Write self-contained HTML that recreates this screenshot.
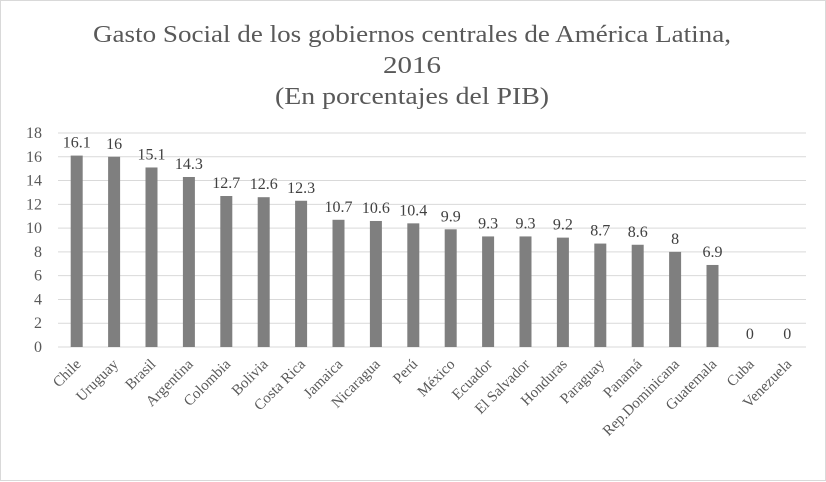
<!DOCTYPE html>
<html><head><meta charset="utf-8">
<style>
html,body{margin:0;padding:0;background:#fff;}
svg{display:block;font-family:"Liberation Serif",serif;}
</style></head>
<body>
<svg id="chart" width="826" height="482" viewBox="0 0 826 482" xmlns="http://www.w3.org/2000/svg">
<rect x="0.5" y="0.5" width="825" height="480" fill="#fff" stroke="#d9d9d9"/>
<g fill="#595959" font-size="24" text-anchor="middle">
<text x="412" y="42" textLength="638" lengthAdjust="spacingAndGlyphs">Gasto Social de los gobiernos centrales de América Latina,</text>
<text x="412" y="73" textLength="58" lengthAdjust="spacingAndGlyphs">2016</text>
<text x="412" y="104" textLength="274" lengthAdjust="spacingAndGlyphs">(En porcentajes del PIB)</text>
</g>
<g id="grid"></g>
<g id="yticks"></g>
<g id="bars"></g>
<g id="vals"></g>
<g id="xlabels"></g>
</svg>
<script>
const categories = ["Chile","Uruguay","Brasil","Argentina","Colombia","Bolivia","Costa Rica","Jamaica","Nicaragua","Perú","México","Ecuador","El Salvador","Honduras","Paraguay","Panamá","Rep.Dominicana","Guatemala","Cuba","Venezuela"];
const values = [16.1,16,15.1,14.3,12.7,12.6,12.3,10.7,10.6,10.4,9.9,9.3,9.3,9.2,8.7,8.6,8,6.9,0,0];
const yTicks = [0,2,4,6,8,10,12,14,16,18];

const NS="http://www.w3.org/2000/svg";
const plotL=58, plotR=806, y0=347, yTop=133, yMax=18;
const step=(plotR-plotL)/categories.length;
function yScale(v){return y0-(v/yMax)*(y0-yTop);}
function xCenter(i){return plotL+step*(i+0.5);}
function mk(tag,attrs,parent){const e=document.createElementNS(NS,tag);for(const k in attrs)e.setAttribute(k,attrs[k]);parent.appendChild(e);return e;}

const grid=document.getElementById('grid'),yt=document.getElementById('yticks');
yTicks.forEach(t=>{
  const l=mk('line',{x1:plotL,x2:plotR,y1:yScale(t),y2:yScale(t),stroke:'#d9d9d9','stroke-width':1},grid);
  
  
  const tx=mk('text',{x:42,y:yScale(t)+5,'text-anchor':'end','font-size':16,fill:'#595959'},yt);
  tx.textContent=t;
  
  
});
const bars=document.getElementById('bars'),vals=document.getElementById('vals'),xl=document.getElementById('xlabels');
categories.forEach((c,i)=>{
  const v=values[i],cx=xCenter(i),bw=12;
  const r=mk('rect',{x:cx-bw/2,y:yScale(v),width:bw,height:y0-yScale(v),fill:'#7f7f7f'},bars);
  
  
  const t=mk('text',{x:cx,y:yScale(v)-8,'text-anchor':'middle','font-size':16,fill:'#404040'},vals);
  t.textContent=String(v);
  
  
  const lx=cx+5,ly=365;
  const lt=mk('text',{x:lx,y:ly,'text-anchor':'end','font-size':15,fill:'#595959',transform:'rotate(-45 '+lx+' '+ly+')'},xl);
  lt.textContent=c;
  
  
});
</script>
</body></html>
